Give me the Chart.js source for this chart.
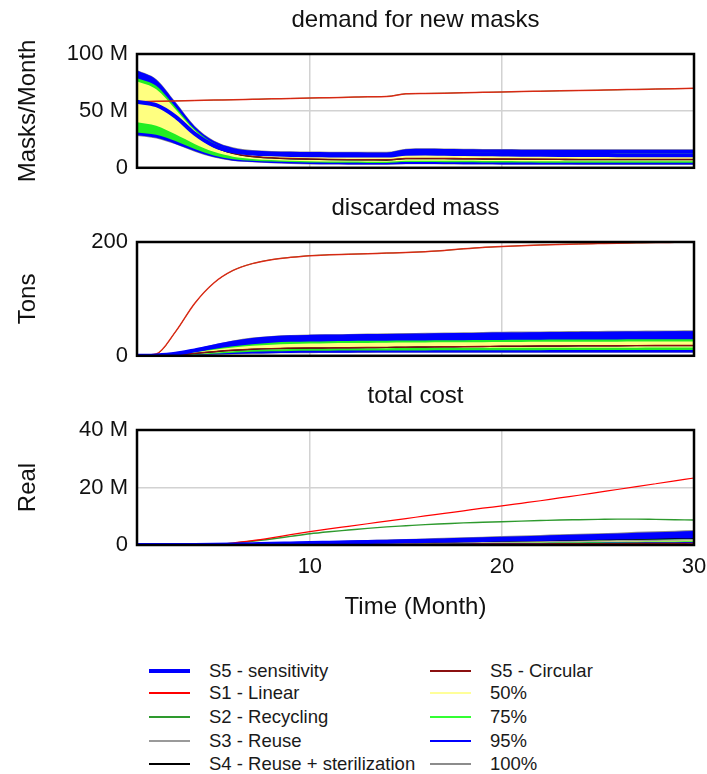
<!DOCTYPE html>
<html>
<head>
<meta charset="utf-8">
<script src="https://cdn.jsdelivr.net/npm/chart.js@4.4.1/dist/chart.umd.min.js"></script>
<style>
  body { margin: 0; background: #fff; font-family: "Liberation Sans", Arial, sans-serif; }
  #page { position: relative; width: 707px; height: 774px; overflow: hidden; background: #fff; }
  .panel { position: absolute; left: 0; }
  .lg { position: absolute; height: 22px; line-height: 22px; font-size: 18.5px; color: #1a1a1a; white-space: nowrap; }
  .lg span { position: absolute; left: 0; top: 50%; width: 41px; }
  .lg b { position: absolute; font-weight: normal; left: 60px; top: 0; }
</style>
</head>
<body>
<div id="page">
  <canvas id="demand" class="panel" style="top:0px" width="707" height="190"></canvas>
  <canvas id="mass" class="panel" style="top:188px" width="707" height="190"></canvas>
  <canvas id="cost" class="panel" style="top:376px" width="707" height="249"></canvas>
  <div id="legend"></div>
</div>
<script>
// time axis (months)
const months = [1, 2, 3, 4, 5, 6, 7, 8, 9, 10, 11, 12, 13, 14, 15, 16, 17, 18, 19, 20, 21, 22, 23, 24, 25, 26, 27, 28, 29, 30];
const monthTicks = [10, 20, 30];

// demand for new masks (millions of masks / month)
const demandLinear = [58, 58.4, 58.8, 59.1, 59.5, 59.8, 60.2, 60.6, 60.9, 61.3, 61.6, 62, 62.4, 62.7, 65, 65.3, 65.6, 66, 66.3, 66.6, 67, 67.3, 67.6, 67.9, 68.2, 68.5, 68.9, 69.2, 69.5, 69.8];
const demandRecycling = [58, 58.4, 58.8, 59.1, 59.5, 59.8, 60.2, 60.6, 60.9, 61.3, 61.6, 62, 62.4, 62.7, 65, 65.3, 65.6, 66, 66.3, 66.6, 67, 67.3, 67.6, 67.9, 68.2, 68.5, 68.9, 69.2, 69.5, 69.8];
const demandReuse = [58, 55, 44.5, 29.5, 18.5, 12.6, 9.8, 8.6, 7.9, 7.5, 7.2, 7, 6.9, 6.8, 8, 8.1, 8, 7.8, 7.7, 7.6, 7.5, 7.4, 7.3, 7.2, 7.2, 7.2, 7.2, 7.2, 7.2, 7.2];
const demandSterilization = [58, 55, 44.5, 29.5, 18.5, 12.6, 9.8, 8.6, 7.9, 7.5, 7.2, 7, 6.9, 6.8, 8, 8.1, 8, 7.8, 7.7, 7.6, 7.5, 7.4, 7.3, 7.2, 7.2, 7.2, 7.2, 7.2, 7.2, 7.2];
const demandCircular = [58, 55.2, 44.8, 29.8, 18.8, 12.9, 10.1, 8.9, 8.2, 7.8, 7.5, 7.3, 7.2, 7.1, 8.3, 8.4, 8.3, 8.1, 8, 7.9, 7.8, 7.7, 7.6, 7.5, 7.5, 7.5, 7.5, 7.5, 7.5, 7.5];
const demandSensitivity = [58, 55, 45, 30, 19.5, 14.4, 12.6, 11.8, 11.3, 11, 10.9, 10.8, 10.7, 10.7, 12.4, 12.5, 12.3, 12.1, 11.9, 11.7, 11.5, 11.4, 11.3, 11.2, 11.2, 11.1, 11.1, 11.1, 11, 11];
const demandMax = [86, 78, 58, 37, 24, 18, 15.6, 14.8, 14.5, 14.3, 14.2, 14.1, 14, 14, 16.8, 17.2, 17, 16.8, 16.6, 16.5, 16.4, 16.4, 16.3, 16.3, 16.3, 16.3, 16.3, 16.3, 16.3, 16.3];
const demandHi95 = [85.4, 77.4, 57.4, 36.4, 23.5, 17.5, 15.1, 14.3, 14, 13.8, 13.7, 13.6, 13.5, 13.5, 16.3, 16.7, 16.5, 16.3, 16.1, 16, 15.9, 15.9, 15.8, 15.8, 15.8, 15.8, 15.8, 15.8, 15.8, 15.8];
const demandHi75 = [79, 72, 53.5, 34, 21.5, 15.6, 13.4, 12.6, 12.2, 12, 11.9, 11.8, 11.7, 11.7, 13.7, 13.9, 13.7, 13.5, 13.3, 13.1, 13, 12.9, 12.8, 12.8, 12.8, 12.8, 12.8, 12.8, 12.8, 12.8];
const demandHi50 = [76, 69, 51.5, 32.8, 20.7, 15, 12.9, 12.2, 11.8, 11.6, 11.5, 11.4, 11.3, 11.3, 13.2, 13.4, 13.2, 13, 12.8, 12.6, 12.5, 12.4, 12.3, 12.3, 12.3, 12.3, 12.3, 12.3, 12.3, 12.3];
const demandLo50 = [40, 37, 29.5, 21, 14, 9.8, 7.8, 6.8, 6.2, 5.8, 5.6, 5.5, 5.4, 5.4, 6.3, 6.3, 6.2, 6.1, 6, 5.9, 5.8, 5.8, 5.7, 5.7, 5.7, 5.7, 5.7, 5.7, 5.7, 5.7];
const demandLo75 = [31, 29, 23.5, 16.5, 10.8, 7.5, 6.2, 5.5, 5, 4.6, 4.5, 4.4, 4.3, 4.3, 5, 5, 4.9, 4.8, 4.7, 4.6, 4.6, 4.5, 4.5, 4.5, 4.5, 4.5, 4.5, 4.5, 4.5, 4.5];
const demandLo95 = [28.5, 26.3, 21, 14.7, 9.4, 6.3, 5.1, 4.3, 3.7, 3.3, 3.1, 3, 2.9, 2.9, 3.4, 3.4, 3.3, 3.2, 3.1, 3, 3, 2.9, 2.9, 2.8, 2.8, 2.8, 2.8, 2.8, 2.8, 2.8];
const demandMin = [28, 25.8, 20.6, 14.2, 9, 6, 4.8, 4, 3.4, 3, 2.8, 2.7, 2.6, 2.6, 3.1, 3.1, 3, 2.9, 2.8, 2.7, 2.7, 2.6, 2.6, 2.5, 2.5, 2.5, 2.5, 2.5, 2.5, 2.5];

// discarded mass (tons)
const massLinear = [0, 3, 42, 92, 128, 150, 162, 169, 173, 176, 177.5, 178.5, 179.5, 180.5, 181.5, 183, 185, 188, 190.5, 192, 193.5, 194.8, 195.8, 196.6, 197.3, 198, 198.5, 199, 199.4, 199.8];
const massRecycling = [0, 3, 42, 92, 128, 150, 162, 169, 173, 176, 177.5, 178.5, 179.5, 180.5, 181.5, 183, 185, 188, 190.5, 192, 193.5, 194.8, 195.8, 196.6, 197.3, 198, 198.5, 199, 199.4, 199.8];
const massReuse = [0, 0.3, 1.5, 4, 7, 9.5, 11.3, 12.4, 13, 13.4, 13.7, 14, 14.3, 14.6, 15, 15.3, 15.6, 15.9, 16.2, 16.5, 16.7, 16.9, 17.1, 17.3, 17.5, 17.6, 17.7, 17.8, 17.9, 18];
const massSterilization = [0, 0.3, 1.5, 4, 7, 9.5, 11.3, 12.4, 13, 13.4, 13.7, 14, 14.3, 14.6, 15, 15.3, 15.6, 15.9, 16.2, 16.5, 16.7, 16.9, 17.1, 17.3, 17.5, 17.6, 17.7, 17.8, 17.9, 18];
const massCircular = [0, 0.4, 1.9, 4.4, 7.4, 9.9, 11.7, 12.8, 13.4, 13.8, 14.1, 14.4, 14.7, 15, 15.4, 15.7, 16, 16.3, 16.6, 16.9, 17.1, 17.3, 17.5, 17.7, 17.9, 18, 18.1, 18.2, 18.3, 18.4];
const massSensitivity = [0, 0.7, 3.5, 9.5, 16.5, 23, 28, 31, 32.5, 33.3, 33.8, 34.2, 34.6, 35, 35.4, 35.8, 36.2, 36.6, 37, 37.3, 37.6, 37.9, 38.2, 38.5, 38.8, 39, 39.2, 39.4, 39.6, 39.8];
const massMax = [0, 1, 5, 12, 20, 27, 32, 35, 36.5, 37.5, 38, 38.5, 39, 39.5, 40, 40.5, 41, 41.5, 42, 42.3, 42.6, 42.9, 43.2, 43.5, 43.8, 44, 44.2, 44.4, 44.6, 44.8];
const massHi95 = [0, 0.8, 4, 10.5, 18, 25, 30, 33, 34.5, 35.5, 36, 36.5, 37, 37.5, 38, 38.5, 39, 39.5, 40, 40.3, 40.6, 40.9, 41.2, 41.5, 41.8, 42, 42.2, 42.4, 42.6, 42.8];
const massHi75 = [0, 0.5, 2.5, 7, 12, 17, 20.5, 23, 24.5, 25.2, 25.7, 26, 26.3, 26.6, 26.9, 27.1, 27.3, 27.5, 27.7, 27.9, 28.1, 28.3, 28.5, 28.6, 28.7, 28.8, 28.9, 29, 29.1, 29.2];
const massHi50 = [0, 0.4, 2, 6, 10.5, 14.5, 17.5, 19.5, 20.8, 21.5, 22, 22.3, 22.6, 22.9, 23.2, 23.4, 23.6, 23.8, 24, 24.2, 24.4, 24.5, 24.6, 24.7, 24.8, 24.9, 25, 25, 25.1, 25.2];
const massLo50 = [0, 0.2, 1, 3, 5.5, 8, 10, 11.3, 12, 12.5, 12.8, 13, 13.2, 13.4, 13.5, 13.6, 13.7, 13.8, 13.9, 14, 14, 14.1, 14.1, 14.2, 14.2, 14.3, 14.3, 14.4, 14.4, 14.5];
const massLo75 = [0, 0.1, 0.7, 2, 3.8, 5.5, 7, 7.8, 8.3, 8.7, 9, 9.1, 9.2, 9.3, 9.4, 9.5, 9.6, 9.7, 9.8, 9.8, 9.9, 9.9, 10, 10, 10, 10, 10, 10, 10, 10];
const massLo95 = [0, 0.1, 0.4, 1.2, 2.2, 3.2, 4, 4.6, 5, 5.2, 5.4, 5.5, 5.6, 5.7, 5.8, 5.8, 5.9, 5.9, 6, 6, 6, 6, 6, 6, 6, 6, 6, 6, 6, 6];
const massMin = [0, 0, 0.3, 1, 1.8, 2.7, 3.5, 4.1, 4.5, 4.7, 4.9, 5, 5.1, 5.2, 5.3, 5.3, 5.4, 5.4, 5.5, 5.5, 5.5, 5.5, 5.5, 5.5, 5.5, 5.5, 5.5, 5.5, 5.5, 5.5];

// total cost (millions)
const costLinear = [0, 0, 0, 0.05, 0.2, 0.7, 1.5, 2.5, 3.6, 4.65, 5.6, 6.5, 7.4, 8.3, 9.2, 10.1, 11, 11.9, 12.8, 13.6, 14.5, 15.4, 16.4, 17.3, 18.3, 19.3, 20.3, 21.3, 22.3, 23.3];
const costRecycling = [0, 0, 0, 0.05, 0.2, 0.65, 1.3, 2.1, 3, 3.9, 4.6, 5.2, 5.8, 6.3, 6.7, 7.1, 7.4, 7.7, 7.9, 8.1, 8.3, 8.5, 8.7, 8.8, 8.9, 9, 9, 8.9, 8.8, 8.7];
const costReuse = [0, 0, 0, 0.01, 0.04, 0.09, 0.15, 0.22, 0.29, 0.36, 0.43, 0.5, 0.56, 0.62, 0.68, 0.75, 0.82, 0.88, 0.95, 1.01, 1.08, 1.15, 1.22, 1.3, 1.38, 1.46, 1.54, 1.62, 1.7, 1.8];
const costSterilization = [0, 0, 0, 0.01, 0.05, 0.11, 0.19, 0.28, 0.37, 0.46, 0.55, 0.64, 0.72, 0.8, 0.88, 0.97, 1.06, 1.15, 1.24, 1.33, 1.42, 1.52, 1.62, 1.72, 1.82, 1.93, 2.04, 2.15, 2.27, 2.4];
const costCircular = [0, 0, 0, 0, 0.02, 0.04, 0.06, 0.09, 0.12, 0.14, 0.17, 0.2, 0.22, 0.25, 0.27, 0.3, 0.32, 0.35, 0.37, 0.39, 0.41, 0.44, 0.46, 0.48, 0.5, 0.52, 0.54, 0.56, 0.58, 0.6];
const costSensitivity = [0, 0, 0, 0.02, 0.08, 0.18, 0.3, 0.42, 0.55, 0.68, 0.8, 0.92, 1.04, 1.16, 1.28, 1.4, 1.52, 1.64, 1.76, 1.88, 2, 2.12, 2.25, 2.38, 2.5, 2.62, 2.75, 2.88, 3, 3.1];
const costMax = [0, 0, 0, 0.05, 0.15, 0.3, 0.5, 0.7, 0.9, 1.1, 1.3, 1.5, 1.7, 1.9, 2.1, 2.3, 2.5, 2.7, 2.9, 3.1, 3.3, 3.5, 3.7, 3.9, 4.1, 4.3, 4.6, 4.8, 5, 5.2];
const costHi95 = [0, 0, 0, 0.05, 0.14, 0.28, 0.46, 0.65, 0.84, 1.02, 1.2, 1.4, 1.6, 1.77, 1.95, 2.14, 2.3, 2.5, 2.7, 2.9, 3.07, 3.25, 3.44, 3.63, 3.8, 4, 4.28, 4.46, 4.65, 4.84];
const costHi75 = [0, 0, 0, 0.03, 0.08, 0.15, 0.24, 0.33, 0.42, 0.5, 0.58, 0.66, 0.74, 0.82, 0.9, 0.98, 1.06, 1.14, 1.22, 1.3, 1.38, 1.46, 1.55, 1.63, 1.72, 1.8, 1.88, 1.96, 2.04, 2.12];
const costHi50 = [0, 0, 0, 0.02, 0.07, 0.13, 0.21, 0.29, 0.37, 0.44, 0.51, 0.58, 0.65, 0.72, 0.79, 0.86, 0.93, 1, 1.07, 1.14, 1.21, 1.28, 1.36, 1.43, 1.5, 1.57, 1.64, 1.71, 1.78, 1.85];
const costLo50 = [0, 0, 0, 0.01, 0.04, 0.08, 0.13, 0.18, 0.23, 0.28, 0.33, 0.38, 0.43, 0.48, 0.53, 0.58, 0.63, 0.68, 0.73, 0.78, 0.83, 0.88, 0.93, 0.98, 1.03, 1.08, 1.13, 1.18, 1.23, 1.28];
const costLo75 = [0, 0, 0, 0.01, 0.03, 0.06, 0.1, 0.14, 0.18, 0.22, 0.26, 0.3, 0.34, 0.38, 0.42, 0.46, 0.5, 0.54, 0.58, 0.62, 0.66, 0.7, 0.74, 0.78, 0.82, 0.86, 0.9, 0.94, 0.98, 1.02];
const costLo95 = [0, 0, 0, 0, 0.02, 0.04, 0.06, 0.09, 0.11, 0.14, 0.16, 0.19, 0.21, 0.24, 0.26, 0.29, 0.31, 0.34, 0.36, 0.39, 0.42, 0.44, 0.47, 0.5, 0.52, 0.55, 0.58, 0.6, 0.63, 0.65];
const costMin = [0, 0, 0, 0, 0.01, 0.03, 0.05, 0.07, 0.09, 0.11, 0.13, 0.15, 0.17, 0.19, 0.21, 0.23, 0.25, 0.27, 0.29, 0.31, 0.33, 0.35, 0.37, 0.39, 0.41, 0.43, 0.45, 0.47, 0.49, 0.5];

const FONT = '"Liberation Sans", Arial, sans-serif';
const COLORS = {
    sens: '#0000ff', linear: '#ff0000', recycling: '#2e9a2e', reuse: '#9a9a9a',
    sterilization: '#000000', circular: '#8b1010',
    p50: '#ffff80', p75: '#22ee22', p95: '#0000ff', p100: '#8c8c8c'
};

const pts = arr => arr.map((v, i) => ({ x: months[i], y: v }));

function line(data, color, width, order) {
    return { data: pts(data), borderColor: color, borderWidth: width, pointRadius: 0, fill: false, order, cubicInterpolationMode: 'monotone' };
}

function band(hi, lo, color, order) {
    return [
        { data: pts(hi), borderWidth: 0, pointRadius: 0, backgroundColor: color, fill: '+1', order, cubicInterpolationMode: 'monotone' },
        { data: pts(lo), borderWidth: 0, pointRadius: 0, fill: false, order, cubicInterpolationMode: 'monotone' }
    ];
}

// black frame around the plot area
const framePlugin = {
    id: 'frame',
    afterDraw(chart) {
        const a = chart.chartArea, c = chart.ctx;
        c.save();
        c.strokeStyle = '#000';
        c.lineWidth = 2.5;
        c.strokeRect(a.left, a.top, a.right - a.left, a.bottom - a.top);
        c.restore();
    }
};

function makeChart(id, title, yTitle, yTicks, suffix, datasets, bottom) {
    const showX = bottom === 'full';
    return new Chart(document.getElementById(id), {
        type: 'line',
        data: { datasets },
        plugins: [framePlugin],
        options: {
            responsive: false,
            animation: false,
            layout: { padding: { left: 0, right: 13, top: 0, bottom: 0 } },
            plugins: {
                legend: { display: false },
                tooltip: { enabled: false },
                title: {
                    display: true, text: title, fullSize: false, color: '#111',
                    font: { family: FONT, size: 24, weight: 'normal' },
                    padding: { top: 5.6, bottom: 19.6 }
                }
            },
            scales: {
                x: {
                    type: 'linear', min: 1, max: 30,
                    afterBuildTicks: s => { s.ticks = monthTicks.map(v => ({ value: v })); },
                    afterFit: s => { s.height = showX ? 80 : bottom; s.paddingRight = 0; s.paddingLeft = 0; },
                    grid: { color: '#d2d2d2', lineWidth: 1.5, drawTicks: false },
                    border: { display: false },
                    ticks: { display: showX, padding: 8.8, color: '#111', font: { family: FONT, size: 22 }, maxRotation: 0 },
                    title: {
                        display: showX, text: 'Time (Month)', color: '#111',
                        font: { family: FONT, size: 24 }, padding: { top: 0, bottom: 3.6 }
                    }
                },
                y: {
                    min: 0, max: yTicks[yTicks.length - 1],
                    afterBuildTicks: s => { s.ticks = yTicks.map(v => ({ value: v })); },
                    afterFit: s => { s.width = 137; },
                    grid: { color: '#d2d2d2', lineWidth: 1.5, drawTicks: false },
                    border: { display: false },
                    ticks: {
                        padding: 9, color: '#111', font: { family: FONT, size: 22 },
                        callback: v => v === 0 ? '0' : v + suffix
                    },
                    title: {
                        display: true, text: yTitle, color: '#111',
                        font: { family: FONT, size: 24 }, padding: { top: 13.6, bottom: 0 }
                    }
                }
            }
        }
    });
}

function panelData(s) {
    return [
        ...band(s.max, s.min, COLORS.p100, 20),
        ...band(s.hi95, s.lo95, COLORS.p95, 19),
        ...band(s.hi75, s.lo75, COLORS.p75, 18),
        ...band(s.hi50, s.lo50, COLORS.p50, 17),
        line(s.reuse, COLORS.reuse, 1.2, 6),
        line(s.sterilization, COLORS.sterilization, 1.2, 5),
        line(s.circular, COLORS.circular, 1.2, 4),
        line(s.recycling, COLORS.recycling, s.recyclingWidth || 1.4, 3),
        line(s.linear, s.linearColor || COLORS.linear, s.linearWidth || 1.2, 2),
        line(s.sens, COLORS.sens, 4, 1)
    ];
}

makeChart('demand', 'demand for new masks', 'Masks/Month', [0, 50, 100], ' M', panelData({
    max: demandMax, hi95: demandHi95, hi75: demandHi75, hi50: demandHi50,
    lo50: demandLo50, lo75: demandLo75, lo95: demandLo95, min: demandMin,
    reuse: demandReuse, sterilization: demandSterilization, circular: demandCircular,
    recycling: demandRecycling, linear: demandLinear, sens: demandSensitivity,
    linearColor: 'rgba(240,20,10,0.85)', linearWidth: 1.5, recyclingWidth: 1
}), 21);

makeChart('mass', 'discarded mass', 'Tons', [0, 200], '', panelData({
    max: massMax, hi95: massHi95, hi75: massHi75, hi50: massHi50,
    lo50: massLo50, lo75: massLo75, lo95: massLo95, min: massMin,
    reuse: massReuse, sterilization: massSterilization, circular: massCircular,
    recycling: massRecycling, linear: massLinear, sens: massSensitivity,
    linearColor: 'rgba(240,20,10,0.85)', linearWidth: 1.5, recyclingWidth: 1
}), 22);

makeChart('cost', 'total cost', 'Real', [0, 20, 40], ' M', panelData({
    max: costMax, hi95: costHi95, hi75: costHi75, hi50: costHi50,
    lo50: costLo50, lo75: costLo75, lo95: costLo95, min: costMin,
    reuse: costReuse, sterilization: costSterilization, circular: costCircular,
    recycling: costRecycling, linear: costLinear, sens: costSensitivity
}), 'full');

// legend, two columns
const legendLeft = [
    ['S5 - sensitivity', COLORS.sens, 4],
    ['S1 - Linear', COLORS.linear, 2],
    ['S2 - Recycling', COLORS.recycling, 2],
    ['S3 - Reuse', COLORS.reuse, 2],
    ['S4 - Reuse + sterilization', COLORS.sterilization, 2]
];
const legendRight = [
    ['S5 - Circular', COLORS.circular, 2],
    ['50%', '#ffff99', 2],
    ['75%', '#33ff33', 2],
    ['95%', COLORS.p95, 2],
    ['100%', COLORS.p100, 2]
];
const legendRows = [671, 693, 717, 741, 764];

const legend = document.getElementById('legend');
[[legendLeft, 149], [legendRight, 430]].forEach(([items, x]) => {
    items.forEach(([label, color, w], i) => {
        const el = document.createElement('div');
        el.className = 'lg';
        el.style.left = x + 'px';
        el.style.top = (legendRows[i] - 11) + 'px';
        el.innerHTML = `<span style="border-top:${w}px solid ${color};margin-top:${-w / 2}px"></span><b>${label}</b>`;
        legend.appendChild(el);
    });
});
</script>
</body>
</html>
